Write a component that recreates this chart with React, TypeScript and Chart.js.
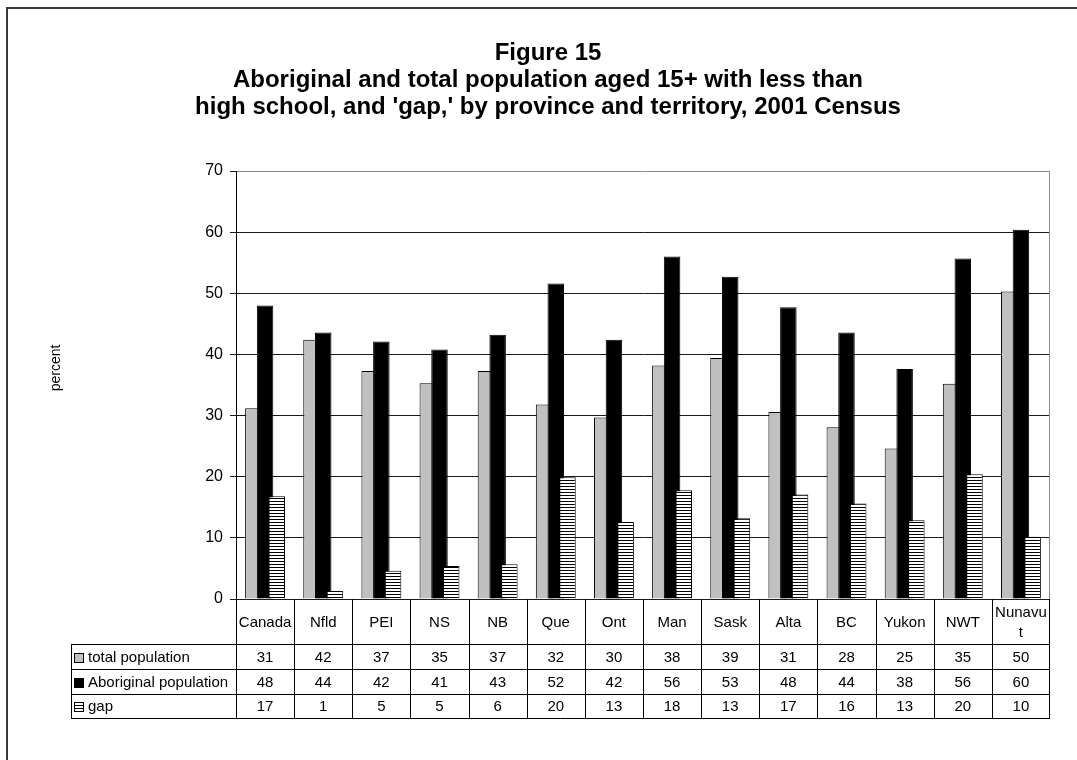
import { useEffect, useRef } from 'react';
import { Chart, registerables } from 'chart.js';

Chart.register(...registerables);

const categories = ['Canada', 'Nfld', 'PEI', 'NS', 'NB', 'Que', 'Ont', 'Man', 'Sask', 'Alta', 'BC', 'Yukon', 'NWT', 'Nunavut'];
const totalPopulation = [31.2, 42.4, 37.3, 35.3, 37.3, 31.8, 29.7, 38.2, 39.4, 30.6, 28.1, 24.6, 35.2, 50.3];
const aboriginalPopulation = [48.0, 43.6, 42.1, 40.8, 43.2, 51.6, 42.4, 56.0, 52.7, 47.7, 43.6, 37.6, 55.7, 60.4];
const gap = [16.8, 1.3, 4.6, 5.4, 5.7, 19.9, 12.6, 17.8, 13.2, 17.1, 15.6, 12.9, 20.4, 10.2];
const seriesNames = ['total population', 'Aboriginal population', 'gap'];
const yMin = 0;
const yMax = 70;
const yStep = 10;
const titleLines = [
  'Figure 15',
  'Aboriginal and total population aged 15+ with less than',
  "high school, and 'gap,' by province and territory, 2001 Census",
];
const yAxisTitle = 'percent';

const W = 1077;
const H = 760;

function wrapChars(ctx: CanvasRenderingContext2D, text: string, maxW: number): string[] {
  const lines: string[] = [];
  let cur = '';
  for (const ch of text) {
    if (cur && ctx.measureText(cur + ch).width > maxW) {
      lines.push(cur);
      cur = ch;
    } else cur += ch;
  }
  lines.push(cur);
  return lines;
}

export default function App() {
  const ref = useRef<HTMLCanvasElement | null>(null);

  useEffect(() => {
    const canvas = ref.current;
    if (!canvas) return;
    const ctx0 = canvas.getContext('2d')!;

    const pc = document.createElement('canvas');
    pc.width = 4;
    pc.height = 3;
    const pctx = pc.getContext('2d')!;
    pctx.fillStyle = '#ffffff';
    pctx.fillRect(0, 0, 4, 3);
    pctx.fillStyle = '#000000';
    pctx.fillRect(0, 0, 4, 1);
    const pattern = ctx0.createPattern(pc, 'repeat')!;

    const fills: any[] = ['#c0c0c0', '#000000', pattern];
    const seriesData = [totalPopulation, aboriginalPopulation, gap];

    const custom = {
      id: 'custom',
      beforeDraw(chart: any) {
        const ctx = chart.ctx as CanvasRenderingContext2D;
        ctx.save();
        ctx.fillStyle = '#ffffff';
        ctx.fillRect(0, 0, W, H);
        ctx.fillStyle = '#3a3a3a';
        ctx.fillRect(6, 7, 2, H);
        ctx.fillRect(6, 7, W, 2);
        ctx.restore();
      },
      beforeDatasetsDraw(chart: any) {
        const metas = chart.getSortedVisibleDatasetMetas();
        for (const m of metas) m.controller.draw();
        return false;
      },
      afterDraw(chart: any) {
        const ctx = chart.ctx as CanvasRenderingContext2D;
        const area = chart.chartArea;
        const xs = chart.scales.x;
        ctx.save();

        // title
        ctx.fillStyle = '#000';
        ctx.font = 'bold 24px Arial';
        ctx.textAlign = 'center';
        ctx.textBaseline = 'alphabetic';
        const tx = 548;
        titleLines.forEach((t, i) => ctx.fillText(t, tx, 60 + i * 27));

        // y title
        ctx.save();
        ctx.translate(56, 368);
        ctx.rotate(-Math.PI / 2);
        ctx.font = '14px Arial';
        ctx.textBaseline = 'middle';
        ctx.fillText(yAxisTitle, 0, 0);
        ctx.restore();

        // plot right border (gray)
        ctx.strokeStyle = '#8c8c8c';
        ctx.lineWidth = 1;
        ctx.beginPath();
        ctx.moveTo(Math.round(area.right) - 0.5, area.top);
        ctx.lineTo(Math.round(area.right) - 0.5, area.bottom);
        ctx.stroke();

        // table
        const n = categories.length;
        const colW = (area.right - area.left) / n;
        const top = Math.round(area.bottom);
        const headerBottom = top + 45;
        const rowH = 24.8;
        const rows = [headerBottom, headerBottom + rowH, headerBottom + 2 * rowH, headerBottom + 3 * rowH].map((v) => Math.round(v));
        const legendLeft = 71;
        const tableBottom = rows[3];

        ctx.strokeStyle = '#000';
        ctx.beginPath();
        for (const r of rows) {
          ctx.moveTo(legendLeft + 0.5, r + 0.5);
          ctx.lineTo(Math.round(area.right), r + 0.5);
        }
        for (let k = 0; k <= n; k++) {
          const x = Math.round(area.left + k * colW) - (k === n ? 1 : 0) + 0.5;
          ctx.moveTo(x, top);
          ctx.lineTo(x, tableBottom + 1);
        }
        ctx.moveTo(legendLeft + 0.5, rows[0]);
        ctx.lineTo(legendLeft + 0.5, tableBottom + 1);
        ctx.stroke();

        // header labels
        ctx.fillStyle = '#000';
        ctx.font = '15px Arial';
        ctx.textAlign = 'center';
        ctx.textBaseline = 'middle';
        const headerMid = (top + headerBottom) / 2 + 1;
        categories.forEach((c, i) => {
          const cx = xs.getPixelForValue(i);
          const lines = wrapChars(ctx, c, colW - 4);
          const lh = 20;
          lines.forEach((l, j) => {
            ctx.fillText(l, cx, headerMid + (j - (lines.length - 1) / 2) * lh);
          });
        });

        // rows
        seriesData.forEach((arr, r) => {
          const mid = (rows[r] + rows[r + 1]) / 2 + 1;
          ctx.textAlign = 'center';
          arr.forEach((v, i) => {
            ctx.fillText(String(Math.round(v)), xs.getPixelForValue(i), mid);
          });
          // legend swatch
          const sx = 74.5;
          const sy = Math.round(mid - 5) + 0.5;
          const s = 9;
          ctx.lineWidth = 1;
          if (r === 0) {
            ctx.fillStyle = '#c0c0c0';
            ctx.fillRect(sx, sy, s, s);
            ctx.strokeStyle = '#000';
            ctx.strokeRect(sx, sy, s, s);
          } else if (r === 1) {
            ctx.fillStyle = '#000';
            ctx.fillRect(sx - 0.5, sy - 0.5, s + 1, s + 1);
          } else {
            ctx.fillStyle = '#fff';
            ctx.fillRect(sx, sy, s, s);
            ctx.strokeStyle = '#000';
            ctx.strokeRect(sx, sy, s, s);
            ctx.beginPath();
            ctx.moveTo(sx, sy + 3);
            ctx.lineTo(sx + s, sy + 3);
            ctx.moveTo(sx, sy + 6);
            ctx.lineTo(sx + s, sy + 6);
            ctx.stroke();
          }
          ctx.fillStyle = '#000';
          ctx.textAlign = 'left';
          ctx.fillText(seriesNames[r], 88, mid);
        });

        ctx.restore();
      },
    };

    const chart = new Chart(canvas, {
      type: 'bar',
      data: {
        labels: categories,
        datasets: seriesData.map((d, i) => ({
          label: seriesNames[i],
          data: d,
          backgroundColor: fills[i],
          borderColor: '#000',
          borderWidth: 1,
          categoryPercentage: 0.604,
          barPercentage: 1.41,
        })),
      },
      options: {
        responsive: false,
        animation: false,
        devicePixelRatio: 1,
        layout: { padding: { left: 0, right: W - 1050, top: 171, bottom: H - 599 } },
        plugins: {
          legend: { display: false },
          title: { display: false },
          tooltip: { enabled: false },
        },
        scales: {
          x: { display: false },
          y: {
            min: yMin,
            max: yMax,
            ticks: {
              stepSize: yStep,
              color: '#000',
              padding: 7,
              font: { family: 'Arial', size: 16 },
            },
            grid: {
              color: (c: any) => (c.tick && c.tick.value === yMax ? '#8c8c8c' : '#1a1a1a'),
              tickColor: '#1a1a1a',
              tickLength: 6,
              lineWidth: 1,
            },
            border: { color: '#000', width: 1 },
            afterFit(scale: any) {
              scale.width = 236;
            },
          },
        },
      } as any,
      plugins: [custom as any],
    });

    return () => chart.destroy();
  }, []);

  return (
    <div style={{ position: 'fixed', left: 0, top: 0, width: W, height: H, background: '#fff' }}>
      <canvas ref={ref} width={W} height={H} style={{ display: 'block', width: W, height: H }} />
    </div>
  );
}
